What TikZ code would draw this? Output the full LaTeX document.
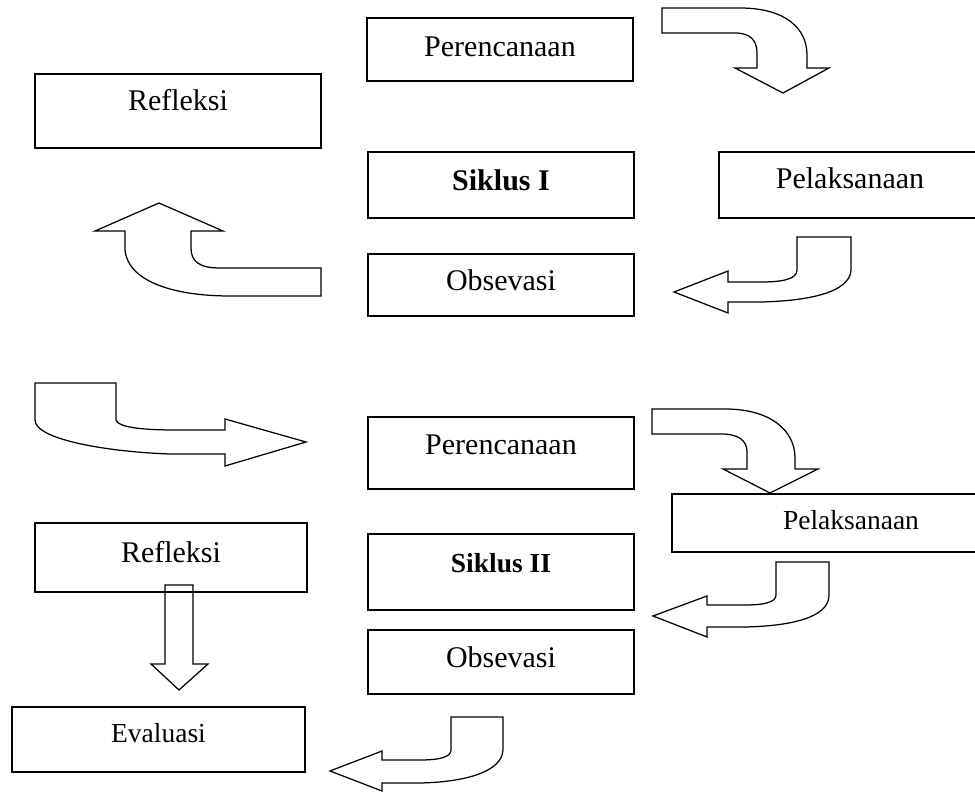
\documentclass[tikz,border=0pt]{standalone}
\usepackage{fontspec}
\setmainfont{Liberation Serif}
\begin{document}
\begin{tikzpicture}[x=0.4pt, y=-0.4pt, line width=0.5pt,
	box/.style={draw, rectangle, inner sep=0pt, text depth=4pt, font=\fontsize{12pt}{14pt}\selectfont},
	smallbox/.style={box, font=\fontsize{11pt}{13pt}\selectfont},
	blockarrow/.style={draw, line join=miter}]
	\clip (0,0) rectangle (975,792);
	\node[box, minimum width=106.4pt, minimum height=25.2pt, text depth=2pt] (plan1) at (500,49.5) {Perencanaan};
	\node[box, minimum width=114.4pt, minimum height=29.6pt, text depth=8.8pt] (refl1) at (178,111) {Refleksi};
	\node[box, minimum width=106.4pt, minimum height=26.4pt, font=\fontsize{12pt}{14pt}\selectfont\bfseries] (cycle1) at (501,185) {Siklus I};
	\node[box, minimum width=104.8pt, minimum height=26.4pt, text depth=5.6pt] (act1) at (850,185) {Pelaksanaan};
	\node[box, minimum width=106.4pt, minimum height=24.8pt] (obs1) at (501,285) {Obsevasi};
	\node[box, minimum width=106.4pt, minimum height=28.8pt, text depth=6.4pt] (plan2) at (501,453) {Perencanaan};
	\node[smallbox, minimum width=143.2pt, minimum height=23.2pt, text depth=2.4pt] (act2) at (851,523) {Pelaksanaan};
	\node[box, minimum width=108.8pt, minimum height=27.6pt, text depth=4.4pt] (refl2) at (171,557.5) {Refleksi};
	\node[smallbox, minimum width=106.4pt, minimum height=30.4pt, text depth=7.2pt, font=\fontsize{11pt}{13pt}\selectfont\bfseries] (cycle2) at (501,572) {Siklus II};
	\node[box, minimum width=106.4pt, minimum height=25.6pt] (obs2) at (501,662) {Obsevasi};
	\node[smallbox, minimum width=117.2pt, minimum height=26pt, text depth=5.2pt] (eval) at (158.5,739.5) {Evaluasi};
	\draw[blockarrow] (662,8) -- (740,8) .. controls (785,8) and (807,28) .. (807,55) -- (807,68) -- (829,68) -- (783,93) -- (735,68) -- (757,68) -- (757,53) .. controls (757,40) and (750,33) .. (735,33) -- (662,33) -- cycle;
	\draw[blockarrow] (321,268) -- (220,268) .. controls (200,268) and (191,262) .. (191,248) -- (191,231) -- (223,231) -- (159,203) -- (95,231) -- (125,231) -- (125,250) .. controls (128,282) and (175,296) .. (230,296) -- (321,296) -- cycle;
	\draw[blockarrow] (797,237) -- (851,237) -- (851,270) .. controls (850,292) and (810,301) .. (760,302) -- (728,302) -- (728,313) -- (674,292) -- (728,271) -- (728,282) -- (760,282) .. controls (780,282) and (797,280) .. (797,270) -- cycle;
	\draw[blockarrow] (35,383) -- (116,383) -- (116,420) .. controls (118,427) and (140,430) .. (175,430) -- (225,430) -- (225,419) -- (306,442) -- (225,466) -- (225,454) -- (170,454) .. controls (110,452) and (35,440) .. (35,420) -- cycle;
	\draw[blockarrow] (652,409) -- (725,409) .. controls (770,409) and (795,430) .. (795,458) -- (795,469) -- (818,469) -- (770,493) -- (723,469) -- (747,469) -- (747,452) .. controls (747,440) and (738,434) .. (721,434) -- (652,434) -- cycle;
	\draw[blockarrow] (165,585) -- (193,585) -- (193,664) -- (208,664) -- (179,690) -- (151,664) -- (165,664) -- cycle;
	\draw[blockarrow] (776,562) -- (829,562) -- (829,596) .. controls (828,618) and (790,626) .. (745,627) -- (707,627) -- (707,637) -- (653,616) -- (707,596) -- (707,605) -- (745,605) .. controls (765,605) and (776,602) .. (776,595) -- cycle;
	\draw[blockarrow] (451,717) -- (503,717) -- (503,750) .. controls (502,772) and (465,782) .. (420,783) -- (382,783) -- (382,791) -- (330,771) -- (382,751) -- (382,760) -- (420,760) .. controls (440,760) and (451,757) .. (451,750) -- cycle;
\end{tikzpicture}
\end{document}
